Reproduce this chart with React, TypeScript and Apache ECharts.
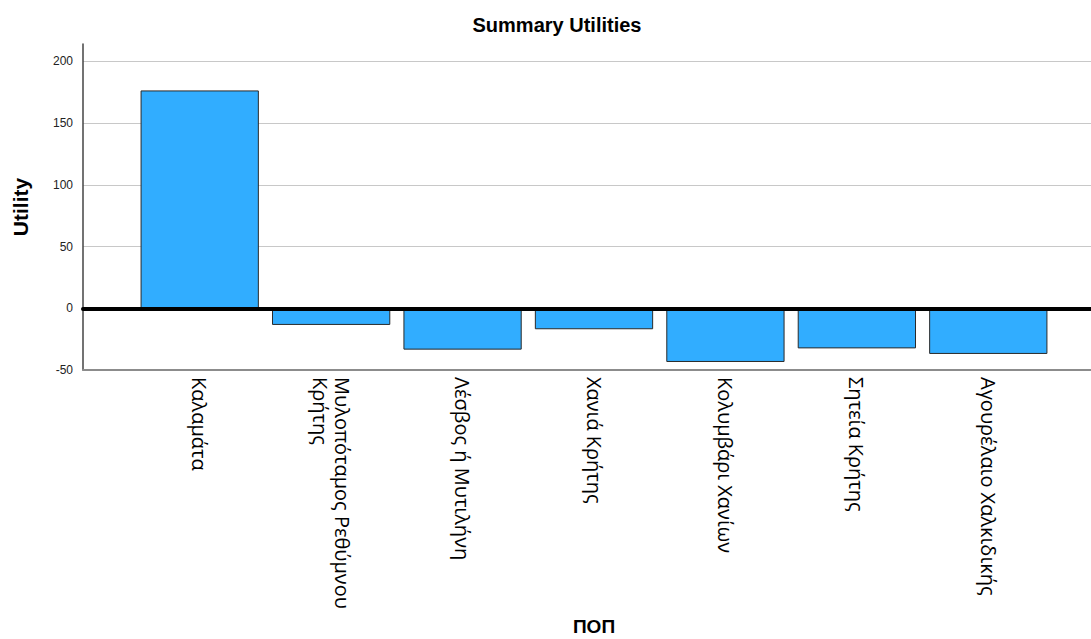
import React, { useEffect, useRef } from "react";
import * as echarts from "echarts";

const categories = [
  "Καλαμάτα",
  "Μυλοπόταμος Ρεθύμνου Κρήτης",
  "Λέσβος ή Μυτιλήνη",
  "Χανιά Κρήτης",
  "Κολυμβάρι Χανίων",
  "Σητεία Κρήτης",
  "Αγουρέλαιο Χαλκιδικής",
];
const utilities = [176.4, -13.5, -33.5, -17, -43.5, -32.5, -37];
const yMin = -50;
const yMax = 214;
const yInterval = 50;
const maxLabelChars = 22;

function wrapLabel(text: string): string {
  if (text.length <= maxLabelChars) return text;
  const i = text.lastIndexOf(" ");
  return i > 0 ? text.slice(0, i) + "\n" + text.slice(i + 1) : text;
}

export default function App() {
  const ref = useRef<HTMLDivElement>(null);
  useEffect(() => {
    if (!ref.current) return;
    const chart = echarts.init(ref.current, undefined, { renderer: "svg" });
    const font = "'Liberation Sans', Arial, sans-serif";
    chart.setOption({
      animation: false,
      backgroundColor: "#ffffff",
      title: {
        text: "Summary Utilities",
        left: 552,
        textAlign: "center",
        top: 10,
        textStyle: { fontFamily: font, fontSize: 20, fontWeight: "bold", color: "#000" },
      },
      grid: [
        { left: 83, right: 0, top: 44, bottom: 269, outerBoundsMode: "none", containLabel: false },
        { left: 134, right: 37, top: 44, bottom: 269, outerBoundsMode: "none", containLabel: false },
      ],
      xAxis: [
        {
          gridIndex: 0,
          type: "value",
          min: 0,
          max: 1,
          position: "bottom",
          axisLine: { show: true, onZero: false, lineStyle: { color: "#8c8c8c", width: 2 } },
          axisTick: { show: false },
          axisLabel: { show: false },
          splitLine: { show: false },
        },
        {
          gridIndex: 0,
          type: "value",
          min: 0,
          max: 1,
          position: "bottom",
          z: 10,
          axisLine: { show: true, onZero: true, lineStyle: { color: "#000", width: 4 } },
          axisTick: { show: false },
          axisLabel: { show: false },
          splitLine: { show: false },
        },
        {
          gridIndex: 1,
          type: "category",
          data: categories,
          position: "bottom",
          axisLine: { show: false, onZero: false },
          axisTick: { show: false },
          axisLabel: {
            rotate: -90,
            margin: 7,
            fontFamily: "'Open Sans', sans-serif",
            fontSize: 20,
            color: "#000",
            lineHeight: 22,
            interval: 0,
            hideOverlap: false,
            formatter: (v: string) => wrapLabel(v),
          },
          name: "ΠΟΠ",
          nameLocation: "middle",
          nameGap: 241,
          nameTextStyle: { fontFamily: font, fontSize: 19, fontWeight: "bold", color: "#000" },
        },
      ],
      yAxis: [
        {
          gridIndex: 0,
          type: "value",
          min: yMin,
          max: yMax,
          interval: yInterval,
          axisLine: { show: true, onZero: false, lineStyle: { color: "#444", width: 1.5 } },
          axisTick: { show: false },
          axisLabel: {
            showMaxLabel: false,
            margin: 10,
            fontFamily: font,
            fontSize: 12,
            color: "#222",
          },
          splitLine: {
            show: true,
            showMinLine: false,
            showMaxLine: false,
            lineStyle: { color: "#c8c8c8", width: 1 },
          },
          name: "Utility",
          nameLocation: "middle",
          nameGap: 52,
          nameTextStyle: { fontFamily: font, fontSize: 21, fontWeight: "bold", color: "#000" },
        },
        {
          gridIndex: 1,
          type: "value",
          min: yMin,
          max: yMax,
          show: false,
        },
      ],
      series: [
        {
          type: "bar",
          xAxisIndex: 2,
          yAxisIndex: 1,
          data: utilities,
          barCategoryGap: "10%",
          itemStyle: { color: "#31adff", borderColor: "#2a2a2a", borderWidth: 1 },
        },
      ],
    });
    return () => chart.dispose();
  }, []);
  return (
    <div
      ref={ref}
      style={{ position: "fixed", left: 0, top: 0, width: 1091, height: 639 }}
    />
  );
}
